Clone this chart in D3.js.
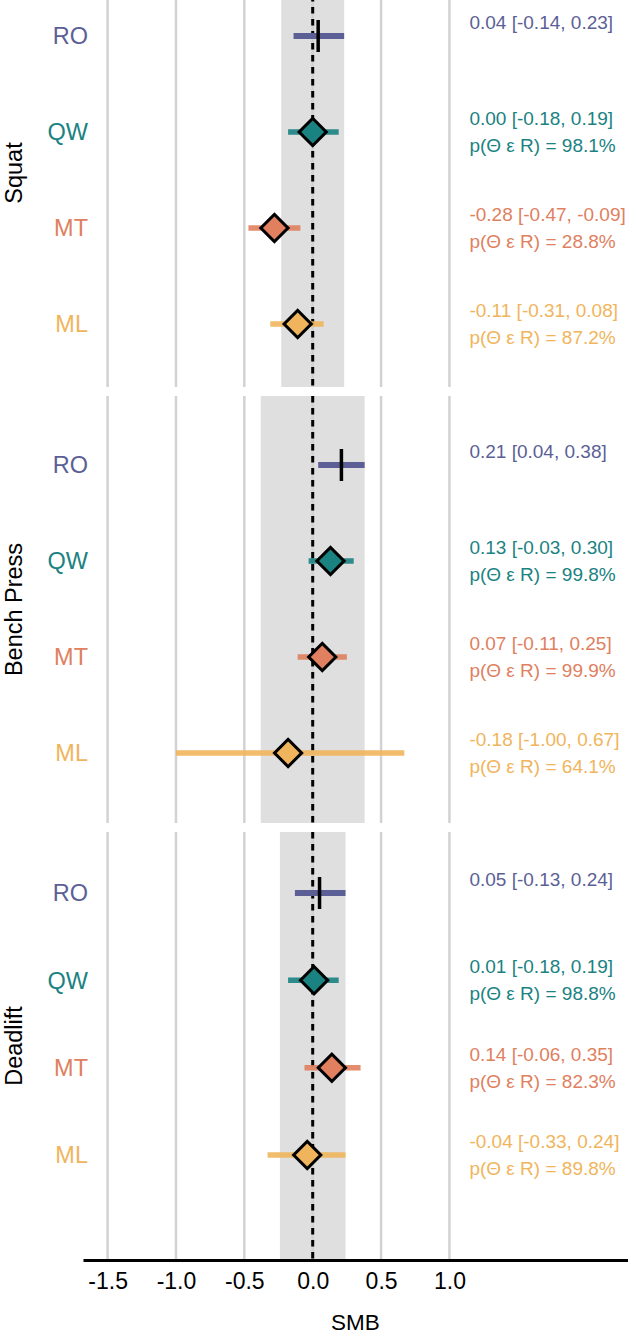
<!DOCTYPE html>
<html>
<head>
<meta charset="utf-8">
<script src="https://cdn.jsdelivr.net/npm/d3@7"></script>
<style>
html,body{margin:0;padding:0;background:#fff;}
svg{display:block;font-family:"Liberation Sans",Arial,sans-serif;}
</style>
</head>
<body>
<svg id="chart" width="628" height="1336"></svg>
<script>
// ---- data ----
const lifts = ["Squat", "Bench Press", "Deadlift"];
const methods = ["RO", "QW", "MT", "ML"];
const estimate = [
  [0.04, 0.00, -0.28, -0.11],
  [0.21, 0.13, 0.07, -0.18],
  [0.05, 0.01, 0.14, -0.04]
];
const lower = [
  [-0.14, -0.18, -0.47, -0.31],
  [0.04, -0.03, -0.11, -1.00],
  [-0.13, -0.18, -0.06, -0.33]
];
const upper = [
  [0.23, 0.19, -0.09, 0.08],
  [0.38, 0.30, 0.25, 0.67],
  [0.24, 0.19, 0.35, 0.24]
];
const pRope = [
  [null, 98.1, 28.8, 87.2],
  [null, 99.8, 99.9, 64.1],
  [null, 98.8, 82.3, 89.8]
];
const ropeHalf = [0.23, 0.38, 0.24];
const xTicks = [-1.5, -1.0, -0.5, 0.0, 0.5, 1.0];
const xTitle = "SMB";

// ---- styling / layout ----
const colors = {RO: "#5C5F96", QW: "#1B8282", MT: "#E0805F", ML: "#F0B55C"};
const panels = [
  {top: -41, bottom: 387, rows: [36, 324]},
  {top: 396, bottom: 823, rows: [465, 753]},
  {top: 832, bottom: 1260, rows: [893, 1155]}
];
const svg = d3.select("#chart");
const x = d3.scaleLinear().domain([-1.68, 2.306]).range([83, 628]);

const fmt2 = v => v.toFixed(2);

lifts.forEach((lift, li) => {
  const P = panels[li];
  const y = d3.scalePoint().domain(methods).range(P.rows);
  const g = svg.append("g");

  // rope band
  g.append("rect")
    .attr("x", x(-ropeHalf[li])).attr("width", x(ropeHalf[li]) - x(-ropeHalf[li]))
    .attr("y", P.top).attr("height", P.bottom - P.top)
    .attr("fill", "#DFDFDF");

  // gridlines
  g.selectAll("line.grid").data(xTicks).join("line")
    .attr("class", "grid")
    .attr("x1", d => x(d)).attr("x2", d => x(d))
    .attr("y1", P.top).attr("y2", P.bottom)
    .attr("stroke", "#D2D2D2").attr("stroke-width", 2.5);

  // zero dashed line
  g.append("line")
    .attr("x1", x(0)).attr("x2", x(0)).attr("y1", P.top).attr("y2", P.bottom)
    .attr("stroke", "#000").attr("stroke-width", 3)
    .attr("stroke-dasharray", "6.5,5.5");

  // strip label
  svg.append("text")
    .attr("transform", `translate(${21.5},${(P.top + P.bottom) / 2}) rotate(-90)`)
    .attr("text-anchor", "middle")
    .attr("font-size", 23.5).attr("fill", "#000")
    .text(lift);

  methods.forEach((m, mi) => {
    const yy = y(m);
    const c = colors[m];
    // method label
    svg.append("text")
      .attr("x", 88).attr("y", yy).attr("dy", "0.35em")
      .attr("text-anchor", "end").attr("font-size", 23.5).attr("fill", c)
      .text(m);
    // interval
    g.append("line")
      .attr("x1", x(lower[li][mi])).attr("x2", x(upper[li][mi]))
      .attr("y1", yy).attr("y2", yy)
      .attr("stroke", c).attr("stroke-width", m === "RO" ? 6 : 5.5)
      .attr("opacity", m === "RO" ? 1 : 0.9);
    if (m === "RO") {
      g.append("line")
        .attr("x1", x(estimate[li][mi])).attr("x2", x(estimate[li][mi]))
        .attr("y1", yy - 16).attr("y2", yy + 16)
        .attr("stroke", "#000").attr("stroke-width", 3.5);
    } else {
      g.append("path")
        .attr("d", d3.symbol(d3.symbolSquare, 370)())
        .attr("transform", `translate(${x(estimate[li][mi])},${yy}) rotate(45)`)
        .attr("fill", c).attr("stroke", "#000").attr("stroke-width", 3)
        .attr("stroke-linejoin", "miter");
    }
    // annotation text
    const t = svg.append("text")
      .attr("x", x(1) + 20).attr("font-size", 19).attr("fill", c);
    t.append("tspan").attr("x", x(1) + 20).attr("y", yy - 13.5).attr("dy", "0.35em")
      .text(`${fmt2(estimate[li][mi])} [${fmt2(lower[li][mi])}, ${fmt2(upper[li][mi])}]`);
    if (pRope[li][mi] !== null) {
      t.append("tspan").attr("x", x(1) + 20).attr("y", yy + 13.5).attr("dy", "0.35em")
        .text(`p(\u0398 \u03B5 R) = ${pRope[li][mi].toFixed(1)}%`);
    }
  });
});

// x axis
const axis = d3.axisBottom(x).tickValues(xTicks).tickSize(0).tickPadding(13)
  .tickFormat(d => d.toFixed(1));
const ax = svg.append("g").attr("transform", `translate(0,${panels[2].bottom})`).call(axis);
ax.select(".domain").attr("stroke", "#000").attr("stroke-width", 3);
ax.selectAll(".tick text").attr("font-size", 23).attr("fill", "#000")
  .attr("font-family", "Liberation Sans, Arial, sans-serif");

svg.append("text")
  .attr("x", (x.range()[0] + x.range()[1]) / 2).attr("y", 1322).attr("dy", "0.35em")
  .attr("text-anchor", "middle").attr("font-size", 22.5).attr("fill", "#000")
  .text(xTitle);
</script>
</body>
</html>
